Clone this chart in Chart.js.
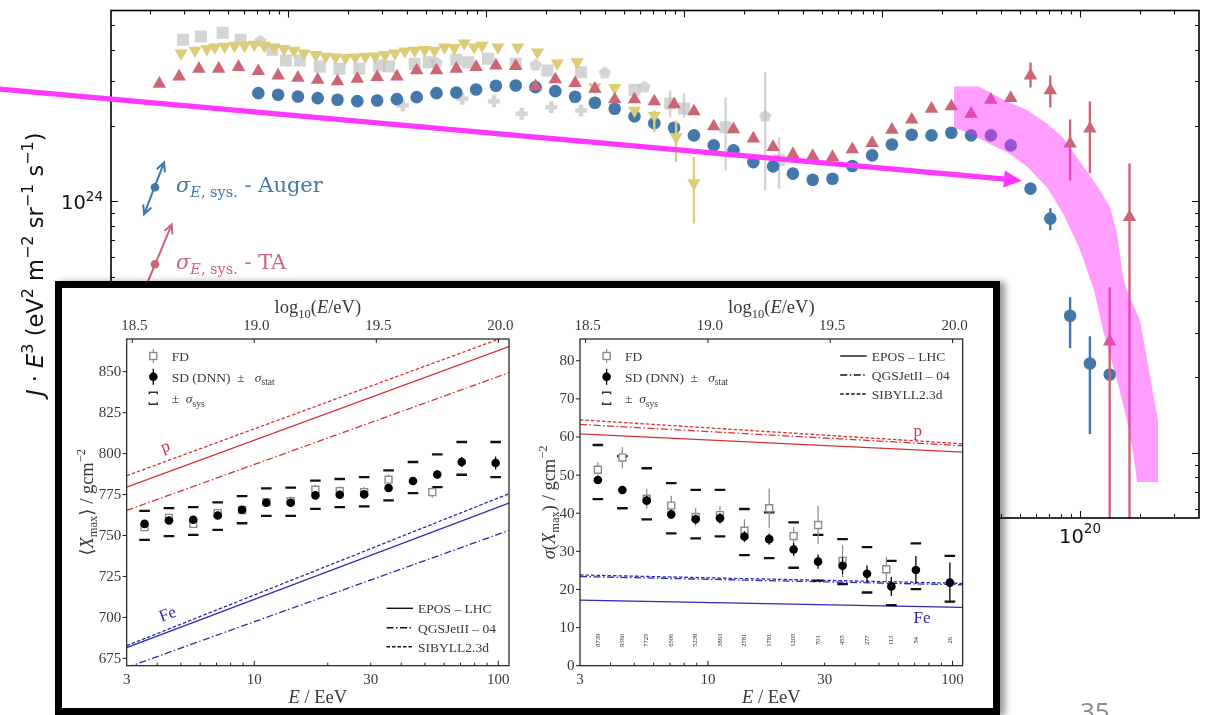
<!DOCTYPE html>
<html lang="en">
<head>
<meta charset="utf-8">
<title>UHECR energy spectrum and depth of shower maximum</title>
<script src="https://cdn.jsdelivr.net/npm/chart.js@4.4.1/dist/chart.umd.min.js"></script>
<style>
  html, body { margin: 0; padding: 0; background: #fff; }
  body { position: relative; width: 1210px; height: 715px; overflow: hidden; }
  #spectrum { position: absolute; left: 0; top: 0; }
  #inset { position: absolute; left: 55px; top: 281px; width: 945px; height: 434px; box-sizing: border-box;
           border: 7px solid #000; background: #fff; box-shadow: 5px 1px 7px rgba(0,0,0,0.42); }
  #xmaxMean { position: absolute; left: 0; top: 0; }
  #xmaxSigma { position: absolute; left: 458px; top: 0; }
</style>
</head>
<body>
<canvas id="spectrum" width="1210" height="715"></canvas>
<div id="inset">
  <canvas id="xmaxMean" width="458" height="420"></canvas>
  <canvas id="xmaxSigma" width="473" height="420"></canvas>
</div>
<script>
// ---------------------------------------------------------------------------
// Energy spectrum: x = log10(E/eV), y = J·E³ in units of 1e24 eV² m⁻² sr⁻¹ s⁻¹
// ---------------------------------------------------------------------------
const augerLgE = [15.85, 15.95, 16.05, 16.15, 16.25, 16.35, 16.45, 16.55, 16.65, 16.75,
                  16.85, 16.95, 17.05, 17.15, 17.25, 17.35, 17.45, 17.55, 17.65, 17.75,
                  17.85, 17.95, 18.05, 18.15, 18.25, 18.35, 18.45, 18.55, 18.65, 18.75,
                  18.85, 18.95, 19.05, 19.15, 19.25, 19.35, 19.45, 19.55, 19.65, 19.75,
                  19.85, 19.95, 20.05, 20.15];
const augerFlux = [2.690, 2.651, 2.610, 2.570, 2.533, 2.500, 2.516, 2.547, 2.594, 2.690,
                   2.707, 2.783, 2.879, 2.886, 2.842, 2.740, 2.603, 2.464, 2.333, 2.175,
                   2.045, 1.961, 1.828, 1.668, 1.594, 1.432, 1.377, 1.288, 1.219, 1.230,
                   1.381, 1.522, 1.683, 1.840, 1.828, 1.874, 1.828, 1.828, 1.668, 1.123,
                   0.854, 0.351, 0.227, 0.205];
const augerErrors = [[19.75, 1.066, 1.179], [19.85, 0.767, 0.938], [19.95, 0.261, 0.416], [20.05, 0.119, 0.291]];

const taLgE = [15.35, 15.45, 15.55, 15.65, 15.75, 15.85, 15.95, 16.05, 16.15, 16.25,
               16.35, 16.45, 16.55, 16.65, 16.75, 16.85, 16.95, 17.05, 17.15, 17.25,
               17.35, 17.45, 17.55, 17.65, 17.75, 17.85, 17.95, 18.05, 18.15, 18.25,
               18.35, 18.45, 18.55, 18.65, 18.75, 18.85, 18.95, 19.05, 19.15, 19.25,
               19.35, 19.45, 19.55, 19.65, 19.75, 19.85, 19.95, 20.05, 20.15, 20.25];
const taFlux = [2.931, 3.133, 3.363, 3.363, 3.412, 3.289, 3.162, 3.097, 3.041, 2.994,
                3.069, 3.114, 3.133, 3.311, 3.311, 3.363, 3.412, 3.464, 3.443, 2.861,
                3.049, 2.947, 2.801, 2.540, 2.540, 2.494, 2.426, 2.276, 1.984, 1.931,
                1.774, 1.642, 1.536, 1.512, 1.498, 1.608, 1.703, 1.925, 2.110, 2.333,
                2.382, 2.228, 2.533, 2.570, 3.162, 2.757, 1.694, 1.943, 0.277, 0.866];
const taErrors = [[19.75, 2.835, 3.561], [19.85, 2.360, 3.162], [19.95, 1.211, 2.116],
                  [20.05, 1.292, 2.494], [20.15, 0.030, 0.456], [20.25, 0.030, 1.415]];

const taleLgE = [15.46, 15.53, 15.59, 15.63, 15.68, 15.73, 15.78, 15.83, 15.88, 15.93,
                 15.98, 16.03, 16.08, 16.14, 16.19, 16.24, 16.29, 16.34, 16.39, 16.44,
                 16.49, 16.54, 16.59, 16.64, 16.69, 16.74, 16.79, 16.84, 16.89, 16.94,
                 16.98, 17.06, 17.16, 17.26, 17.36, 17.46, 17.55, 17.65, 17.75, 17.85,
                 17.96, 18.05];
const taleFlux = [3.878, 3.975, 4.036, 4.096, 4.122, 4.159, 4.159, 4.198, 4.159, 4.096,
                  4.036, 3.975, 3.878, 3.821, 3.763, 3.738, 3.718, 3.738, 3.763, 3.773,
                  3.821, 3.878, 3.949, 3.975, 3.999, 3.975, 4.096, 4.073, 4.248, 4.096,
                  4.159, 4.096, 4.096, 3.912, 3.539, 3.572, 2.842, 2.827, 2.297, 2.194,
                  1.800, 1.182];
const taleErrors = [[17.85, 1.884, 2.297], [17.96, 1.433, 2.097], [18.05, 0.816, 1.499]];

// other measurements, drawn in grey
const refSquareLgE = [15.47, 15.56, 15.67, 15.76, 15.92, 15.99, 16.06, 16.16, 16.26, 16.36,
                      16.46, 16.51, 16.64, 16.71, 16.85, 16.91, 17.01, 17.15, 17.31, 17.48,
                      17.75, 17.93, 18.00, 18.21, 18.48];
const refSquareFlux = [4.383, 4.517, 4.671, 4.383, 3.999, 3.627, 3.627, 3.435, 3.363, 3.363,
                       3.464, 3.435, 3.518, 3.572, 3.650, 3.572, 3.684, 3.518, 3.311, 3.260,
                       2.775, 2.448, 2.339, 1.971, 1.455];
const refSquareErrors = [[17.93, 2.154, 2.757], [18.00, 2.154, 2.680], [18.21, 1.327, 2.594], [18.48, 1.123, 1.800]];
const refPentagonLgE = [15.86, 16.75, 17.25, 17.60, 17.80, 18.41];
const refPentagonFlux = [4.355, 3.572, 3.498, 3.260, 2.861, 2.194];
const refPentagonErrors = [[18.41, 1.106, 3.260]];
const refPlusLgE = [16.58, 16.88, 17.04, 17.18, 17.33, 17.48];
const refPlusFlux = [2.404, 2.556, 2.500, 2.228, 2.367, 2.297];

// highlighted flux-suppression region (log10 E, J·E³)
const suppressionBand = [
  [19.364, 2.861], [19.490, 2.861], [19.621, 2.516], [19.737, 2.297], [19.833, 2.040],
  [19.914, 1.795], [19.995, 1.455], [20.091, 1.137], [20.152, 0.947], [20.187, 0.746],
  [20.217, 0.499], [20.237, 0.443], [20.303, 0.337], [20.369, 0.173], [20.394, 0.135],
  [20.394, 0.0767], [20.288, 0.0767], [20.268, 0.100], [20.237, 0.135], [20.187, 0.195],
  [20.116, 0.308], [20.071, 0.443], [19.995, 0.657], [19.914, 0.896], [19.833, 1.137],
  [19.737, 1.364], [19.641, 1.551], [19.540, 1.699], [19.444, 1.861], [19.364, 1.967]
];
const trendArrow = { from: [14.545, 2.790], to: [19.707, 1.208] };

// energy-scale systematic shifts shown in the key
const energyScaleShifts = [
  { name: 'Auger', dot: [15.328, 1.137], from: [15.273, 0.888], to: [15.374, 1.428], bothEnds: true },
  { name: 'TA', dot: [15.328, 0.5623], from: [15.253, 0.4046], to: [15.413, 0.8102], bothEnds: false }
];

const spectrumXDecades = [16, 17, 18, 19, 20];   // log10(E/eV)
const spectrumYDecades = [23, 24];               // log10 of J·E³
const FLUX_UNIT_EXP = 24;
const spectrumXRange = [15.106, 20.601];
const spectrumYRange = [0.0552, 5.73];

// ---------------------------------------------------------------------------
// Depth of shower maximum (inset): E in EeV
// ---------------------------------------------------------------------------
const binEnergyEeV = [3.55, 4.47, 5.62, 7.08, 8.91, 11.2, 14.1, 17.8, 22.4, 28.2, 35.5, 44.7, 56.2, 70.8, 97.5];
const fdEnergyEeV = [3.55, 4.47, 5.62, 7.08, 8.91, 11.2, 14.1, 17.8, 22.4, 28.2, 35.5, 53.6];
const eventCounts = ['8739', '9360', '7725', '6506', '5238', '3863', '2781', '1791', '1205', '701', '455', '277', '113', '54', '26'];

const meanXmaxSD = [757.1, 759.2, 759.6, 762.2, 765.7, 770.0, 770.0, 774.5, 774.9, 775.1, 779.0, 783.3, 787.3, 794.9, 794.3];
const meanXmaxSDStat = [1.5, 1.5, 1.5, 1.5, 1.5, 1.5, 1.6, 1.7, 1.8, 2.0, 2.0, 2.2, 2.5, 3.0, 4.0];
const meanXmaxSysHi = [765.1, 766.7, 767.3, 770.2, 774.1, 778.8, 779.2, 783.5, 784.5, 785.7, 789.8, 794.9, 799.6, 807.1, 807.1];
const meanXmaxSysLo = [747.3, 749.6, 750.4, 753.5, 757.5, 762.0, 762.0, 766.3, 767.3, 767.8, 771.4, 775.9, 779.6, 787.1, 785.7];
const meanXmaxFD = [755.1, 760.8, 757.1, 763.7, 765.5, 770.4, 771.0, 778.0, 777.1, 776.5, 784.1, 776.5];
const meanXmaxFDErr = [2.5, 2.5, 2.5, 2.5, 2.5, 2.5, 2.8, 3.0, 3.0, 3.2, 3.2, 3.5];

const sigmaXmaxSD = [48.7, 46.1, 43.3, 39.7, 38.4, 38.7, 33.9, 33.2, 30.5, 27.3, 26.2, 24.1, 20.8, 25.1, 21.8];
const sigmaXmaxSDStat = [1.0, 1.0, 1.2, 1.2, 1.2, 1.3, 1.4, 1.5, 1.7, 1.9, 2.2, 2.2, 2.5, 3.7, 5.3];
const sigmaXmaxSysHi = [57.9, 55.0, 51.8, 47.9, 46.1, 46.1, 41.1, 40.2, 37.6, 34.3, 33.2, 31.1, 27.5, 32.1, 28.8];
const sigmaXmaxSysLo = [43.7, 41.3, 38.4, 34.7, 33.4, 33.9, 29.0, 28.2, 25.7, 22.3, 21.4, 19.2, 15.9, 20.1, 16.8];
const sigmaXmaxFD = [51.4, 54.6, 43.8, 42.0, 39.0, 39.5, 35.4, 41.3, 34.0, 36.9, 27.5, 25.3];
const sigmaXmaxFDErr = [2.0, 2.8, 2.6, 2.6, 2.4, 2.4, 3.0, 5.2, 2.4, 5.0, 4.2, 3.3];

// hadronic-interaction model predictions for proton and iron (endpoints in E)
const modelEnergyEeV = [3, 110.5];
const meanXmaxModels = [
  { model: 'EPOS – LHC', p: [779.6, 865.3], fe: [681.6, 769.8] },
  { model: 'QGSJetII – 04', p: [765.3, 849.4], fe: [669.4, 753.1] },
  { model: 'SIBYLL2.3d', p: [786.5, 872.2], fe: [682.7, 775.5] }
];
const sigmaXmaxModels = [
  { model: 'EPOS – LHC', p: [60.8, 56.0], fe: [17.2, 15.3] },
  { model: 'QGSJetII – 04', p: [63.3, 57.7], fe: [23.4, 21.2] },
  { model: 'SIBYLL2.3d', p: [64.5, 58.2], fe: [23.8, 21.6] }
];
const topAxisLgE = [18.5, 19.0, 19.5, 20.0];

// ---------------------------------------------------------------------------
// styles
// ---------------------------------------------------------------------------
const AUGER_BLUE = '#4477aa';
const TA_RED = '#cc6677';
const TALE_SAND = '#ddcc77';
const REF_GREY = 'rgba(185,185,185,0.62)';
const HIGHLIGHT = 'rgb(255,56,255)';
const BAND_FILL = 'rgba(255,40,255,0.45)';
const P_RED = 'rgb(214,52,52)';
const FE_BLUE = 'rgb(42,42,178)';
const FD_GREY = '#8a8a8a';
const TEXT_INK = '#383838';
const FRAME_INK = '#1c1c1c';
const SANS = '"DejaVu Sans", sans-serif';
const DSERIF = '"DejaVu Serif", serif';
const SERIF = '"Liberation Serif", "DejaVu Serif", serif';
const serif = (size, style = '') => `${style} ${size}px ${SERIF}`.trim();
const modelDash = { 'EPOS – LHC': [], 'QGSJetII – 04': [7, 2.5, 1.5, 2.5], 'SIBYLL2.3d': [3.5, 2] };

const toPoints = (xs, ys) => xs.map((v, i) => ({ x: v, y: ys[i] }));
const toBars = rows => rows.map(([x, lo, hi]) => ({ x, lo, hi }));
const symBars = (xs, ys, errs) => xs.map((v, i) => ({ x: v, lo: ys[i] - errs[i], hi: ys[i] + errs[i] }));
const seg = (text, font, dy = 0) => ({ text, font, dy });

function richText(ctx, x, y, parts, align = 'left', angle = 0) {
  ctx.save();
  ctx.translate(x, y);
  if (angle) ctx.rotate(angle);
  ctx.textAlign = 'left';
  ctx.textBaseline = 'alphabetic';
  const widths = parts.map(p => { ctx.font = p.font; return ctx.measureText(p.text).width; });
  const total = widths.reduce((s, w) => s + w, 0);
  let cx = align === 'center' ? -total / 2 : align === 'right' ? -total : 0;
  parts.forEach((p, i) => { ctx.font = p.font; ctx.fillText(p.text, cx, p.dy); cx += widths[i]; });
  ctx.restore();
  return total;
}

function pentagonMarker(size, color) {
  const c = document.createElement('canvas');
  c.width = c.height = size;
  const g = c.getContext('2d');
  g.fillStyle = color;
  g.beginPath();
  for (let k = 0; k < 5; k++) {
    const ang = -Math.PI / 2 + k * 2 * Math.PI / 5;
    const px = size / 2 + (size / 2) * Math.cos(ang);
    const py = size / 2 + 0.8 + (size / 2) * Math.sin(ang);
    if (k) g.lineTo(px, py); else g.moveTo(px, py);
  }
  g.closePath();
  g.fill();
  return c;
}

// vertical error bars stored on a dataset as {x, lo, hi}
const errorBarPlugin = {
  id: 'errorBars',
  beforeDatasetDraw(chart, args) {
    const ds = chart.data.datasets[args.index];
    if (!ds.errorBars) return;
    const { ctx, chartArea: a, scales: { x, y } } = chart;
    ctx.save();
    ctx.beginPath();
    ctx.rect(a.left, a.top, a.right - a.left, a.bottom - a.top);
    ctx.clip();
    ctx.strokeStyle = ds.errorBarColor;
    ctx.lineWidth = ds.errorBarWidth;
    ctx.beginPath();
    ds.errorBars.forEach(e => {
      const px = x.getPixelForValue(e.x);
      ctx.moveTo(px, y.getPixelForValue(e.lo));
      ctx.lineTo(px, y.getPixelForValue(e.hi));
    });
    ctx.stroke();
    ctx.restore();
  }
};

function arrowHead(ctx, x0, y0, x1, y1, len, spread) {
  const ang = Math.atan2(y1 - y0, x1 - x0);
  ctx.moveTo(x1 - len * Math.cos(ang - spread), y1 - len * Math.sin(ang - spread));
  ctx.lineTo(x1, y1);
  ctx.lineTo(x1 - len * Math.cos(ang + spread), y1 - len * Math.sin(ang + spread));
}

// frame, ticks, labels, key and highlight of the spectrum panel
const spectrumDecorPlugin = {
  id: 'spectrumDecor',
  afterDatasetsDraw(chart) {
    const { ctx, scales: { x, y } } = chart;
    ctx.save();
    ctx.fillStyle = BAND_FILL;
    ctx.beginPath();
    suppressionBand.forEach(([lg, f], i) => {
      const px = x.getPixelForValue(lg), py = y.getPixelForValue(f);
      if (i) ctx.lineTo(px, py); else ctx.moveTo(px, py);
    });
    ctx.closePath();
    ctx.fill();
    ctx.restore();
  },
  afterDraw(chart) {
    const { ctx, chartArea: a, scales: { x, y } } = chart;
    ctx.save();

    // minor / major ticks on all four sides, pointing inwards
    ctx.strokeStyle = '#111';
    ctx.lineWidth = 1.1;
    ctx.beginPath();
    for (let n = 15; n <= 20; n++) {
      for (let k = 1; k <= 9; k++) {
        const lg = n + Math.log10(k);
        if (lg <= x.min || lg >= x.max) continue;
        const px = Math.round(x.getPixelForValue(lg)) + 0.5;
        const len = k === 1 ? 7 : 4;
        ctx.moveTo(px, a.top); ctx.lineTo(px, a.top + len);
        ctx.moveTo(px, a.bottom); ctx.lineTo(px, a.bottom - len);
      }
    }
    for (let e = -2; e <= 0; e++) {
      for (let k = 1; k <= 9; k++) {
        const v = k * Math.pow(10, e);
        if (v <= y.min || v >= y.max) continue;
        const py = Math.round(y.getPixelForValue(v)) + 0.5;
        const len = k === 1 ? 7 : 4;
        ctx.moveTo(a.left, py); ctx.lineTo(a.left + len, py);
        ctx.moveTo(a.right, py); ctx.lineTo(a.right - len, py);
      }
    }
    ctx.stroke();
    ctx.strokeStyle = '#000';
    ctx.lineWidth = 1.6;
    ctx.strokeRect(a.left, a.top, a.right - a.left, a.bottom - a.top);

    // tick labels
    ctx.fillStyle = '#111';
    spectrumXDecades.forEach(n => richText(ctx, x.getPixelForValue(n), a.bottom + 25,
      [seg('10', `19.5px ${SANS}`), seg(String(n), `13.5px ${SANS}`, -10)], 'center'));
    spectrumYDecades.forEach(n => richText(ctx, a.left - 8, y.getPixelForValue(Math.pow(10, n - FLUX_UNIT_EXP)) + 8,
      [seg('10', `19.5px ${SANS}`), seg(String(n), `13.5px ${SANS}`, -8)], 'right'));

    // axis title
    const t = 22.5, s = 16;
    richText(ctx, 43, (a.top + a.bottom) / 2, [
      seg('J', `italic ${t}px ${SANS}`), seg(' · ', `${t}px ${SANS}`), seg('E', `italic ${t}px ${SANS}`),
      seg('3', `${s}px ${SANS}`, -10), seg(' (eV', `${t}px ${SANS}`), seg('2', `${s}px ${SANS}`, -10),
      seg(' m', `${t}px ${SANS}`), seg('−2', `${s}px ${SANS}`, -10), seg(' sr', `${t}px ${SANS}`),
      seg('−1', `${s}px ${SANS}`, -10), seg(' s', `${t}px ${SANS}`), seg('−1', `${s}px ${SANS}`, -10),
      seg(')', `${t}px ${SANS}`)
    ], 'center', -Math.PI / 2);

    // energy-scale systematics key
    energyScaleShifts.forEach(k => {
      const color = k.name === 'Auger' ? AUGER_BLUE : TA_RED;
      const [x0, y0] = [x.getPixelForValue(k.from[0]), y.getPixelForValue(k.from[1])];
      const [x1, y1] = [x.getPixelForValue(k.to[0]), y.getPixelForValue(k.to[1])];
      const [xd, yd] = [x.getPixelForValue(k.dot[0]), y.getPixelForValue(k.dot[1])];
      ctx.strokeStyle = color; ctx.fillStyle = color; ctx.lineWidth = 2;
      ctx.beginPath();
      ctx.moveTo(x0, y0); ctx.lineTo(x1, y1);
      arrowHead(ctx, x0, y0, x1, y1, 10, 0.45);
      if (k.bothEnds) arrowHead(ctx, x1, y1, x0, y0, 10, 0.45);
      ctx.stroke();
      ctx.beginPath(); ctx.arc(xd, yd, 4.3, 0, Math.PI * 2); ctx.fill();
      richText(ctx, xd + 21, yd + 5, [
        seg('σ', `italic 21px ${DSERIF}`), seg('E', `italic 14.5px ${DSERIF}`, 5),
        seg(', sys.', `14.5px ${DSERIF}`, 5), seg(' - ' + k.name, `21px ${DSERIF}`)
      ]);
    });

    // highlight arrow
    const ax0 = x.getPixelForValue(trendArrow.from[0]), ay0 = y.getPixelForValue(trendArrow.from[1]);
    const ax1 = x.getPixelForValue(trendArrow.to[0]), ay1 = y.getPixelForValue(trendArrow.to[1]);
    const ang = Math.atan2(ay1 - ay0, ax1 - ax0);
    const headLen = 18, headHalf = 8.5;
    const bx = ax1 - headLen * Math.cos(ang), by = ay1 - headLen * Math.sin(ang);
    ctx.strokeStyle = HIGHLIGHT; ctx.fillStyle = HIGHLIGHT; ctx.lineWidth = 5.2;
    ctx.beginPath(); ctx.moveTo(ax0, ay0); ctx.lineTo(bx + Math.cos(ang), by + Math.sin(ang)); ctx.stroke();
    ctx.beginPath();
    ctx.moveTo(ax1, ay1);
    ctx.lineTo(bx + headHalf * Math.sin(ang), by - headHalf * Math.cos(ang));
    ctx.lineTo(bx - headHalf * Math.sin(ang), by + headHalf * Math.cos(ang));
    ctx.closePath(); ctx.fill();

    // slide number
    ctx.fillStyle = '#8c8c8c';
    ctx.font = '26px "Open Sans", sans-serif';
    ctx.textAlign = 'left'; ctx.textBaseline = 'alphabetic';
    ctx.fillText('35', 1080, 721);
    ctx.restore();
  }
};

new Chart(document.getElementById('spectrum'), {
  type: 'scatter',
  data: {
    datasets: [
      { label: 'TA', data: toPoints(taLgE, taFlux), pointStyle: 'triangle', pointRadius: 7.8,
        backgroundColor: TA_RED, borderColor: TA_RED, borderWidth: 0,
        errorBars: toBars(taErrors), errorBarColor: TA_RED, errorBarWidth: 2.4, order: 0 },
      { label: 'TALE', data: toPoints(taleLgE, taleFlux), pointStyle: 'triangle', pointRotation: 180, pointRadius: 7.6,
        backgroundColor: TALE_SAND, borderColor: TALE_SAND, borderWidth: 0,
        errorBars: toBars(taleErrors), errorBarColor: TALE_SAND, errorBarWidth: 2.4, order: 1 },
      { label: 'Auger', data: toPoints(augerLgE, augerFlux), pointStyle: 'circle', pointRadius: 6.3,
        backgroundColor: AUGER_BLUE, borderColor: AUGER_BLUE, borderWidth: 0,
        errorBars: toBars(augerErrors), errorBarColor: AUGER_BLUE, errorBarWidth: 2.4, order: 2 },
      { label: 'other (squares)', data: toPoints(refSquareLgE, refSquareFlux), pointStyle: 'rect', pointRadius: 8.5,
        backgroundColor: REF_GREY, borderColor: REF_GREY, borderWidth: 0,
        errorBars: toBars(refSquareErrors), errorBarColor: REF_GREY, errorBarWidth: 2.4, order: 3 },
      { label: 'other (pentagons)', data: toPoints(refPentagonLgE, refPentagonFlux), pointStyle: pentagonMarker(13, REF_GREY),
        backgroundColor: REF_GREY, borderColor: REF_GREY, borderWidth: 0,
        errorBars: toBars(refPentagonErrors), errorBarColor: REF_GREY, errorBarWidth: 2.4, order: 3 },
      { label: 'other (plus)', data: toPoints(refPlusLgE, refPlusFlux), pointStyle: 'cross', pointRadius: 6,
        backgroundColor: REF_GREY, borderColor: REF_GREY, borderWidth: 4.5, order: 3 }
    ]
  },
  options: {
    responsive: false, animation: false, devicePixelRatio: 1, events: [],
    layout: { padding: { left: 111, top: 10, right: 11, bottom: 197 } },
    scales: {
      x: { type: 'linear', min: spectrumXRange[0], max: spectrumXRange[1], display: false },
      y: { type: 'logarithmic', min: spectrumYRange[0], max: spectrumYRange[1], display: false }
    },
    plugins: { legend: { display: false }, tooltip: { enabled: false } }
  },
  plugins: [errorBarPlugin, spectrumDecorPlugin]
});

// ---------------------------------------------------------------------------
// inset panels
// ---------------------------------------------------------------------------
function compositionDatasets(sd, sdStat, sysHi, sysLo, fd, fdErr, models) {
  const sets = [
    { label: 'SD (DNN)', data: toPoints(binEnergyEeV, sd), pointStyle: 'circle', pointRadius: 4.3,
      backgroundColor: '#000', borderColor: '#000', borderWidth: 0,
      errorBars: symBars(binEnergyEeV, sd, sdStat), errorBarColor: '#000', errorBarWidth: 1.3, order: 0 },
    { label: 'FD', data: toPoints(fdEnergyEeV, fd), pointStyle: 'rect', pointRadius: 4.9,
      backgroundColor: '#fff', borderColor: FD_GREY, borderWidth: 1.4,
      errorBars: symBars(fdEnergyEeV, fd, fdErr), errorBarColor: FD_GREY, errorBarWidth: 1.2, order: 1 },
    { label: 'sys high', data: toPoints(binEnergyEeV, sysHi), pointStyle: 'line', pointRadius: 5.3,
      borderColor: '#111', borderWidth: 2.3, order: 2 },
    { label: 'sys low', data: toPoints(binEnergyEeV, sysLo), pointStyle: 'line', pointRadius: 5.3,
      borderColor: '#111', borderWidth: 2.3, order: 2 }
  ];
  models.forEach(m => {
    [['p', P_RED], ['fe', FE_BLUE]].forEach(([key, color]) => sets.push({
      label: `${m.model} ${key}`, data: toPoints(modelEnergyEeV, m[key]), showLine: true, pointRadius: 0,
      borderColor: color, borderWidth: 1.3, borderDash: modelDash[m.model], order: 3
    }));
  });
  return sets;
}

function drawDataKey(ctx, a) {
  const mx = a.left + 26.6, tx = a.left + 45;
  const rows = [a.top + 17, a.top + 37.7, a.top + 59.3];
  ctx.strokeStyle = FD_GREY; ctx.lineWidth = 1.2;
  ctx.beginPath(); ctx.moveTo(mx, rows[0] - 7); ctx.lineTo(mx, rows[0] + 7); ctx.stroke();
  ctx.fillStyle = '#fff'; ctx.fillRect(mx - 3.5, rows[0] - 3.5, 7, 7);
  ctx.lineWidth = 1.4; ctx.strokeRect(mx - 3.5, rows[0] - 3.5, 7, 7);
  ctx.strokeStyle = '#000'; ctx.lineWidth = 1.3;
  ctx.beginPath(); ctx.moveTo(mx, rows[1] - 8); ctx.lineTo(mx, rows[1] + 8); ctx.stroke();
  ctx.fillStyle = '#000'; ctx.beginPath(); ctx.arc(mx, rows[1], 4.3, 0, Math.PI * 2); ctx.fill();
  ctx.strokeStyle = '#333'; ctx.lineWidth = 1.5;
  ctx.beginPath();
  ctx.moveTo(mx - 4, rows[2] - 4); ctx.lineTo(mx - 4, rows[2] - 6); ctx.lineTo(mx + 4, rows[2] - 6); ctx.lineTo(mx + 4, rows[2] - 4);
  ctx.moveTo(mx - 4, rows[2] + 4); ctx.lineTo(mx - 4, rows[2] + 6); ctx.lineTo(mx + 4, rows[2] + 6); ctx.lineTo(mx + 4, rows[2] + 4);
  ctx.stroke();
  ctx.fillStyle = TEXT_INK;
  richText(ctx, tx, rows[0] + 5, [seg('FD', serif(13.5))]);
  richText(ctx, tx, rows[1] + 5, [seg('SD (DNN)  ±   ', serif(13.5)), seg('σ', serif(13.5, 'italic')), seg('stat', serif(9.5), 3.5)]);
  richText(ctx, tx, rows[2] + 5, [seg('±  ', serif(13.5)), seg('σ', serif(13.5, 'italic')), seg('sys', serif(9.5), 3.5)]);
}

function drawModelKey(ctx, a, models, rows) {
  const x0 = a.right - 122.5, x1 = a.right - 96, tx = a.right - 91;
  models.forEach((m, i) => {
    ctx.strokeStyle = '#111'; ctx.lineWidth = 1.4; ctx.setLineDash(modelDash[m.model]);
    ctx.beginPath(); ctx.moveTo(x0, rows[i]); ctx.lineTo(x1, rows[i]); ctx.stroke();
    ctx.setLineDash([]);
    ctx.fillStyle = TEXT_INK;
    richText(ctx, tx, rows[i] + 5, [seg(m.model, serif(13.5))]);
  });
}

function compositionAxes(cfg) {
  return {
    id: 'compositionAxes',
    afterDraw(chart) {
      const { ctx, chartArea: a, scales: { x, y } } = chart;
      ctx.save();

      // proton / iron labels next to the model lines
      cfg.modelLabels.forEach(l => {
        ctx.save();
        ctx.translate(x.getPixelForValue(l.e), y.getPixelForValue(l.v));
        if (l.follow) {
          const dx = x.getPixelForValue(modelEnergyEeV[1]) - x.getPixelForValue(modelEnergyEeV[0]);
          const dy = y.getPixelForValue(l.follow[1]) - y.getPixelForValue(l.follow[0]);
          ctx.rotate(Math.atan2(dy, dx));
        }
        ctx.font = serif(17); ctx.fillStyle = l.color;
        ctx.textAlign = 'center'; ctx.textBaseline = 'middle';
        ctx.fillText(l.text, 0, 0);
        ctx.restore();
      });

      // number of events per bin
      if (cfg.counts) {
        ctx.font = serif(6.5); ctx.fillStyle = '#222';
        ctx.textAlign = 'center'; ctx.textBaseline = 'middle';
        cfg.counts.forEach((n, i) => {
          ctx.save();
          ctx.translate(x.getPixelForValue(binEnergyEeV[i]), y.getPixelForValue(cfg.countsAt));
          ctx.rotate(-Math.PI / 2);
          ctx.fillText(n, 0, 0);
          ctx.restore();
        });
      }

      // frame and ticks
      ctx.strokeStyle = FRAME_INK; ctx.lineWidth = 1.2;
      ctx.strokeRect(a.left, a.top, a.right - a.left, a.bottom - a.top);
      ctx.lineWidth = 1;
      ctx.beginPath();
      for (let d = 1; d <= 100; d *= 10) {
        for (let k = 1; k <= 9; k++) {
          const v = k * d;
          if (v <= x.min || v >= x.max) continue;
          const px = x.getPixelForValue(v), len = k === 1 ? 5 : 3;
          ctx.moveTo(px, a.bottom); ctx.lineTo(px, a.bottom - len);
        }
      }
      topAxisLgE.forEach(t => {
        const px = x.getPixelForValue(Math.pow(10, t - 18));
        ctx.moveTo(px, a.top); ctx.lineTo(px, a.top + 4);
      });
      cfg.yTicks.forEach(v => {
        const py = y.getPixelForValue(v);
        ctx.moveTo(a.left - 4, py); ctx.lineTo(a.left, py);
      });
      ctx.stroke();

      // tick labels
      ctx.fillStyle = TEXT_INK; ctx.font = serif(15);
      ctx.textAlign = 'right'; ctx.textBaseline = 'middle';
      cfg.yTicks.forEach(v => ctx.fillText(String(v), a.left - 5.5, y.getPixelForValue(v) + 0.5));
      ctx.textAlign = 'center'; ctx.textBaseline = 'alphabetic';
      cfg.xLabels.forEach(v => ctx.fillText(String(v), x.getPixelForValue(v), a.bottom + 18));
      topAxisLgE.forEach(t => ctx.fillText(t.toFixed(1), x.getPixelForValue(Math.pow(10, t - 18)) + 2, a.top - 9));

      // axis titles
      const cx = (a.left + a.right) / 2;
      richText(ctx, cx, a.top - 26, [seg('log', serif(18.5)), seg('10', serif(12.5), 5), seg('(', serif(18.5)),
        seg('E', serif(18.5, 'italic')), seg('/eV)', serif(18.5))], 'center');
      richText(ctx, cx, a.bottom + 37, [seg('E', serif(18.5, 'italic')), seg(' / EeV', serif(18.5))], 'center');
      richText(ctx, a.left + cfg.yTitleDx, (a.top + a.bottom) / 2, cfg.yTitle, 'center', -Math.PI / 2);

      drawDataKey(ctx, a);
      drawModelKey(ctx, a, cfg.models, cfg.modelRows(a));
      ctx.restore();
    }
  };
}

function makeCompositionChart(id, cfg) {
  return new Chart(document.getElementById(id), {
    type: 'scatter',
    data: { datasets: cfg.datasets },
    options: {
      responsive: false, animation: false, devicePixelRatio: 1, events: [],
      layout: { padding: cfg.padding },
      scales: {
        x: { type: 'logarithmic', min: 3, max: cfg.xMax, display: false },
        y: { type: 'linear', min: cfg.yMin, max: cfg.yMax, display: false }
      },
      plugins: { legend: { display: false }, tooltip: { enabled: false } }
    },
    plugins: [errorBarPlugin, compositionAxes(cfg)]
  });
}

makeCompositionChart('xmaxMean', {
  datasets: compositionDatasets(meanXmaxSD, meanXmaxSDStat, meanXmaxSysHi, meanXmaxSysLo, meanXmaxFD, meanXmaxFDErr, meanXmaxModels),
  padding: { left: 64.7, top: 51, right: 11, bottom: 42.3 },
  xMax: 110.6, yMin: 670.5, yMax: 870,
  yTicks: [675, 700, 725, 750, 775, 800, 825, 850],
  xLabels: [3, 10, 30, 100],
  yTitleDx: -34,
  yTitle: [seg('⟨', serif(18.5)), seg('X', serif(18.5, 'italic')), seg('max', serif(12.5), 4),
           seg('⟩ / gcm', serif(18.5)), seg('−2', serif(12.5), -8)],
  modelLabels: [
    { text: 'p', e: 4.32, v: 804, color: P_RED, follow: meanXmaxModels[0].p },
    { text: 'Fe', e: 4.42, v: 701.5, color: FE_BLUE, follow: meanXmaxModels[0].fe }
  ],
  models: meanXmaxModels,
  modelRows: a => [a.bottom - 57.4, a.bottom - 38, a.bottom - 19]
});

makeCompositionChart('xmaxSigma', {
  datasets: compositionDatasets(sigmaXmaxSD, sigmaXmaxSDStat, sigmaXmaxSysHi, sigmaXmaxSysLo, sigmaXmaxFD, sigmaXmaxFDErr, sigmaXmaxModels),
  padding: { left: 60, top: 51, right: 30.3, bottom: 42.3 },
  xMax: 110, yMin: 0, yMax: 85.7,
  yTicks: [0, 10, 20, 30, 40, 50, 60, 70, 80],
  xLabels: [3, 10, 30, 100],
  yTitleDx: -25,
  yTitle: [seg('σ', serif(18.5, 'italic')), seg('(', serif(18.5)), seg('X', serif(18.5, 'italic')),
           seg('max', serif(12.5), 4), seg(') / gcm', serif(18.5)), seg('−2', serif(12.5), -8)],
  modelLabels: [
    { text: 'p', e: 72, v: 61.3, color: P_RED },
    { text: 'Fe', e: 75, v: 12.5, color: FE_BLUE }
  ],
  counts: eventCounts, countsAt: 6.7,
  models: sigmaXmaxModels,
  modelRows: a => [a.top + 17, a.top + 36, a.top + 55]
});
</script>
</body>
</html>
